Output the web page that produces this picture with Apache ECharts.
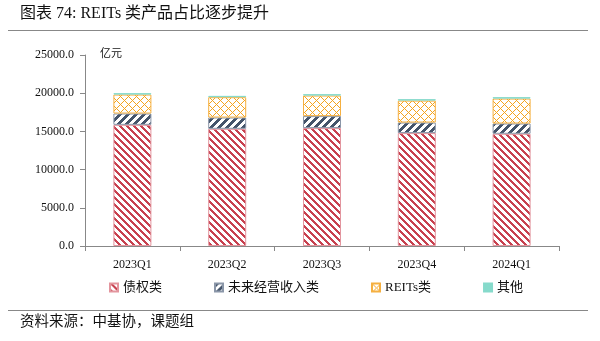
<!DOCTYPE html>
<html>
<head>
<meta charset="utf-8">
<script src="https://cdn.jsdelivr.net/npm/echarts@6/dist/echarts.min.js"></script>
<style>
html,body{margin:0;padding:0;background:#fff;}
#chart{width:600px;height:341px;}
</style>
</head>
<body>
<div id="chart"></div>
<script>
// ---- data ----
const categories = ['2023Q1', '2023Q2', '2023Q3', '2023Q4', '2024Q1'];
const debtValues = [15860, 15340, 15430, 14780, 14690];      // 债权类
const futureValues = [1480, 1475, 1570, 1380, 1340];        // 未来经营收入类
const reitsValues = [2480, 2665, 2690, 2870, 3265];         // REITs类
const otherValues = [180, 170, 180, 190, 185];              // 其他
const seriesNames = ['债权类', '未来经营收入类', 'REITs类', '其他'];
const yTicks = [0, 5000, 10000, 15000, 20000, 25000];

const FONT = '"Liberation Serif", "Noto Sans CJK SC", serif';

function makePattern(size, color, test) {
  const c = document.createElement('canvas');
  c.width = size; c.height = size;
  const ctx = c.getContext('2d');
  ctx.fillStyle = '#ffffff';
  ctx.fillRect(0, 0, size, size);
  ctx.fillStyle = color;
  for (let x = 0; x < size; x++) {
    for (let y = 0; y < size; y++) {
      if (test(x, y)) ctx.fillRect(x, y, 1, 1);
    }
  }
  return { image: c, repeat: 'repeat' };
}
const mod = (a, n) => ((a % n) + n) % n;
const redPat = makePattern(7, '#C8414F', (x, y) => mod(x - y, 7) < 3);
const bluePat = makePattern(8, '#44546A', (x, y) => mod(x + y, 8) < 4);
const orangePat = makePattern(8, '#F5A41D', (x, y) => mod(x + y, 8) === 0 || mod(x - y, 8) === 0);
const otherColor = '#86DACB';

const chart = echarts.init(document.getElementById('chart'), null, { renderer: 'canvas' });

function mkSeries(name, data, color, border) {
  return {
    name: name,
    type: 'bar',
    stack: 'total',
    barWidth: 38,
    data: data,
    itemStyle: { color: color, borderColor: border, borderWidth: 1 },
    emphasis: { disabled: true }
  };
}

const option = {
  animation: false,
  backgroundColor: '#ffffff',
  grid: { left: 85, right: 41, top: 55, bottom: 95 },
  legend: {
    left: 104, top: 276,
    itemWidth: 8, itemHeight: 8, itemGap: 52,
    icon: 'rect',
    textStyle: { fontFamily: FONT, fontSize: 13, color: '#111' },
    data: seriesNames
  },
  xAxis: {
    type: 'category',
    data: categories,
    axisLine: { lineStyle: { color: '#888', width: 1 } },
    axisTick: { show: true, length: 5, lineStyle: { color: '#888' } },
    axisLabel: { fontFamily: FONT, fontSize: 12, color: '#111', margin: 13 }
  },
  yAxis: {
    type: 'value',
    min: yTicks[0], max: yTicks[yTicks.length - 1], interval: yTicks[1] - yTicks[0],
    axisLine: { show: true, lineStyle: { color: '#888', width: 1 } },
    axisTick: { show: true, length: 5, lineStyle: { color: '#888' } },
    splitLine: { show: false },
    axisLabel: { fontFamily: FONT, fontSize: 12, color: '#111', margin: 11,
      formatter: v => v.toFixed(1) }
  },
  series: [
    mkSeries(seriesNames[0], debtValues, redPat, '#E3959E'),
    mkSeries(seriesNames[1], futureValues, bluePat, '#8A96A8'),
    mkSeries(seriesNames[2], reitsValues, orangePat, '#F5B041'),
    mkSeries(seriesNames[3], otherValues, otherColor, '#86DACB')
  ],
  graphic: [
    { type: 'text', left: 20, top: 6, style: { text: '图表 74: REITs 类产品占比逐步提升', fontFamily: FONT, fontSize: 16, fill: '#111' } },
    { type: 'line', shape: { x1: 8, y1: 30.5, x2: 588, y2: 30.5 }, style: { stroke: '#888', lineWidth: 1 } },
    { type: 'text', left: 100, top: 49, style: { text: '亿元', fontFamily: FONT, fontSize: 11, fill: '#111' } },
    { type: 'line', shape: { x1: 8, y1: 310.5, x2: 588, y2: 310.5 }, style: { stroke: '#888', lineWidth: 1 } },
    { type: 'text', left: 20, top: 315, style: { text: '资料来源：中基协，课题组', fontFamily: FONT, fontSize: 14.5, fill: '#111' } }
  ]
};
chart.setOption(option);
</script>
</body>
</html>
